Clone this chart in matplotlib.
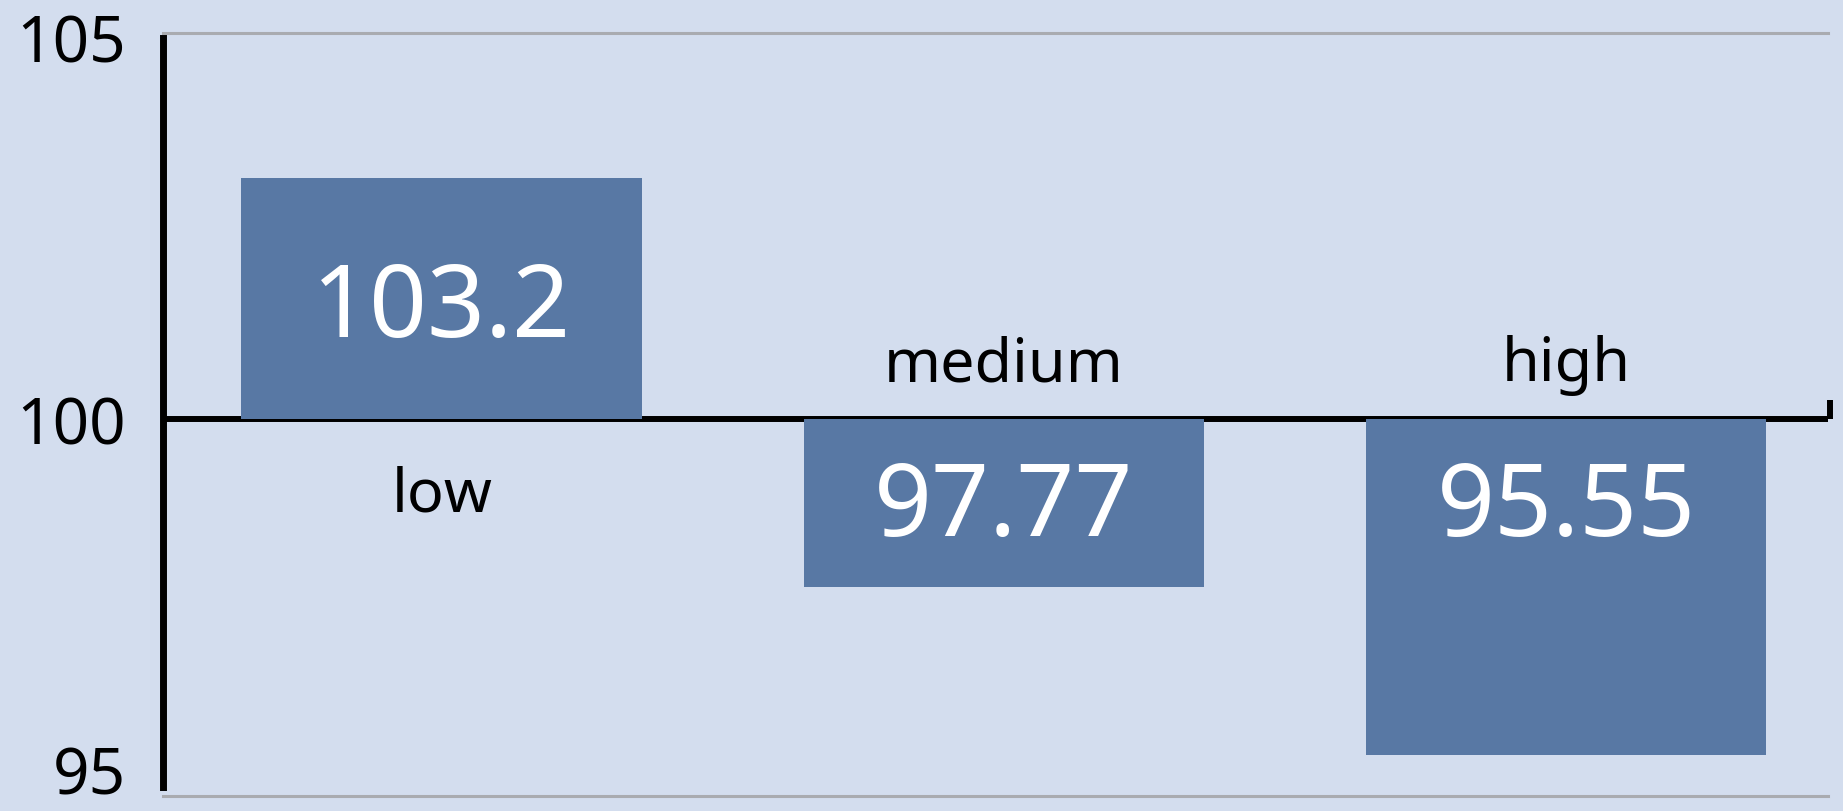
import matplotlib
matplotlib.use('Agg')
import matplotlib.pyplot as plt
import matplotlib.transforms as mtransforms

categories = ['low', 'medium', 'high']
values = [103.2, 97.77, 95.55]
value_labels = ['103.2', '97.77', '95.55']
y_ticks = [95, 100, 105]
baseline = 100

BG = '#d3ddee'
BAR = '#5878a4'

plt.rcParams['font.family'] = ['Noto Sans', 'DejaVu Sans']

W, H = 1843, 812
fig = plt.figure(figsize=(W / 100, H / 100), dpi=100, facecolor=BG)
ax = fig.add_axes([163 / W, 1 - 797 / H, (1828 - 163) / W, (797 - 34) / H])
ax.set_facecolor(BG)

x = list(range(len(categories)))
heights = [v - baseline for v in values]
ax.bar(x, heights, bottom=baseline, width=0.713, color=BAR, zorder=3)

ax.set_xlim(-0.496, 2.466)
ax.set_ylim(95.12, 105.12)

# baseline at 100 with little end tick
ax.axhline(baseline, color='black', lw=4.3, zorder=2)
tr = mtransforms.blended_transform_factory(ax.transAxes, ax.transData)
ax.plot([1.0012, 1.0012], [baseline, baseline + 0.25], color='black', lw=4.3,
        transform=tr, clip_on=False, solid_capstyle='butt', zorder=2)

for s in ('top', 'bottom'):
    ax.spines[s].set_color('#a9abb0')
    ax.spines[s].set_linewidth(2.2)
ax.spines['right'].set_visible(False)
ax.spines['left'].set_color('black')
ax.spines['left'].set_linewidth(5)
ax.spines['left'].set_bounds(95.12, 105.05)
ax.spines['left'].set_zorder(4)

ax.set_xticks([])
ax.set_yticks(y_ticks)
ax.set_yticklabels([str(t) for t in y_ticks])
ax.tick_params(axis='y', length=0, pad=27, labelsize=46)

# nudge the end labels to sit like the original
shifts = {95: 27, 105: 5}
for t, lab in zip(y_ticks, ax.get_yticklabels()):
    dy = shifts.get(t, 0)
    if dy:
        lab.set_transform(lab.get_transform() +
                          mtransforms.ScaledTranslation(0, dy / 100, fig.dpi_scale_trans))

for xi, v, lab, cat in zip(x, values, value_labels, categories):
    if v >= baseline:
        ty = (baseline + v) / 2
        ax.annotate(cat, (xi, baseline), xytext=(0, -66), textcoords='offset points',
                    ha='center', va='baseline', fontsize=44, color='black')
    else:
        ty = max((baseline + v) / 2, 98.96)
        ax.annotate(cat, (xi, baseline), xytext=(0, 28), textcoords='offset points',
                    ha='center', va='baseline', fontsize=44, color='black')
    ax.annotate(lab, (xi, ty), xytext=(0, -27), textcoords='offset points',
                ha='center', va='baseline', fontsize=73, color='white', zorder=5)

fig.savefig('out.png', dpi=100, facecolor=BG)
